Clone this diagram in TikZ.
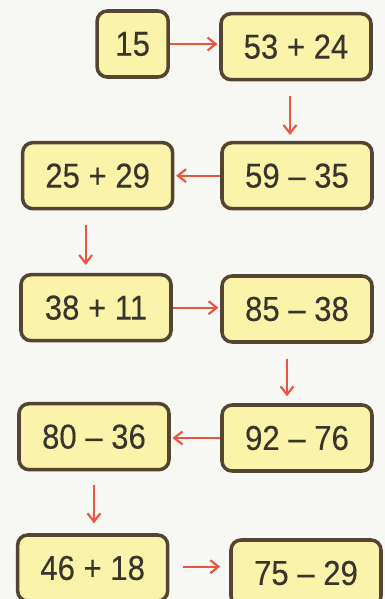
\documentclass[tikz,border=0pt]{standalone}
\usepackage{fontspec}
\usepackage{tikz}
\usetikzlibrary{positioning}
\usetikzlibrary{arrows.meta}
\newfontfamily\sumfont[FakeStretch=0.9, FakeBold=0.25]{Liberation Sans}
\definecolor{pagebg}{RGB}{247,247,244}
\definecolor{cardfill}{RGB}{249,244,170}
\definecolor{cardborder}{RGB}{84,68,50}
\definecolor{sumtext}{RGB}{56,54,44}
\definecolor{arrowred}{RGB}{232,84,62}
\pgfdeclarelayer{pagelayer}
\pgfdeclarelayer{nodelayer}
\pgfdeclarelayer{edgelayer}
\pgfsetlayers{pagelayer,edgelayer,nodelayer,main}
\tikzstyle{card}=[shape=rectangle, rounded corners=0.3cm, draw=cardborder, line width=3pt, fill=cardfill, text=sumtext, minimum width=4.5cm, minimum height=1.98cm, inner sep=0pt, font={\sumfont\fontsize{29.5}{32}\selectfont}]
\tikzstyle{small card}=[card, minimum width=2.13cm]
\tikzstyle{red arrow}=[draw=arrowred, line width=1.8pt, -{Straight Barb[length=7pt, width=11pt, line width=1.8pt]}]

\begin{document}
\begin{tikzpicture}
    \useasboundingbox (0, 0) rectangle (11.55, -17.97);
    			\begin{pgfonlayer}{pagelayer}
    				\fill [pagebg] (0, 0) rectangle (11.55, -17.97);
    			\end{pgfonlayer}
    			\begin{pgfonlayer}{nodelayer}
    				\node [style=small card] (0) at (3.98, -1.32) {15};
    				\node [style=card] (1) at (8.88, -1.40) {53 + 24};
    				\node [style=card] (2) at (8.91, -5.27) {59 – 35};
    				\node [style=card] (3) at (2.93, -5.27) {25 + 29};
    				\node [style=card] (4) at (2.88, -9.23) {38 + 11};
    				\node [style=card] (5) at (8.91, -9.27) {85 – 38};
    				\node [style=card] (6) at (8.91, -13.14) {92 – 76};
    				\node [style=card] (7) at (2.82, -13.10) {80 – 36};
    				\node [style=card] (8) at (2.78, -17.04) {46 + 18};
    				\node [style=card] (9) at (9.18, -17.19) {75 – 29};
    			\end{pgfonlayer}
    			\begin{pgfonlayer}{edgelayer}
    				\draw [style=red arrow, shorten >=1.5pt] (0.east) to (0.east -| 1.west);
    				\draw [style=red arrow, shorten <=0.45cm, shorten >=0.18cm] ([xshift=-0.18cm]1.south) to ([xshift=-0.18cm]1.south |- 2.north);
    				\draw [style=red arrow, shorten >=1.5pt] (2.west) to (2.west -| 3.east);
    				\draw [style=red arrow, shorten <=0.45cm, shorten >=0.24cm] ([xshift=-0.36cm]3.south) to ([xshift=-0.36cm]3.south |- 4.north);
    				\draw [style=red arrow, shorten >=1.5pt] (4.east) to (4.east -| 5.west);
    				\draw [style=red arrow, shorten <=0.45cm, shorten >=0.21cm] ([xshift=-0.3cm]5.south) to ([xshift=-0.3cm]5.south |- 6.north);
    				\draw [style=red arrow, shorten >=1.5pt] (6.west) to (6.west -| 7.east);
    				\draw [style=red arrow, shorten <=0.4cm, shorten >=0.3cm] (7.south) to (7.south |- 8.north);
    				\draw [style=red arrow, shorten <=0.4cm, shorten >=0.27cm] ([yshift=0.04cm]8.east) to ([yshift=0.04cm]8.east -| 9.west);
    			\end{pgfonlayer}
\end{tikzpicture}
\end{document}
